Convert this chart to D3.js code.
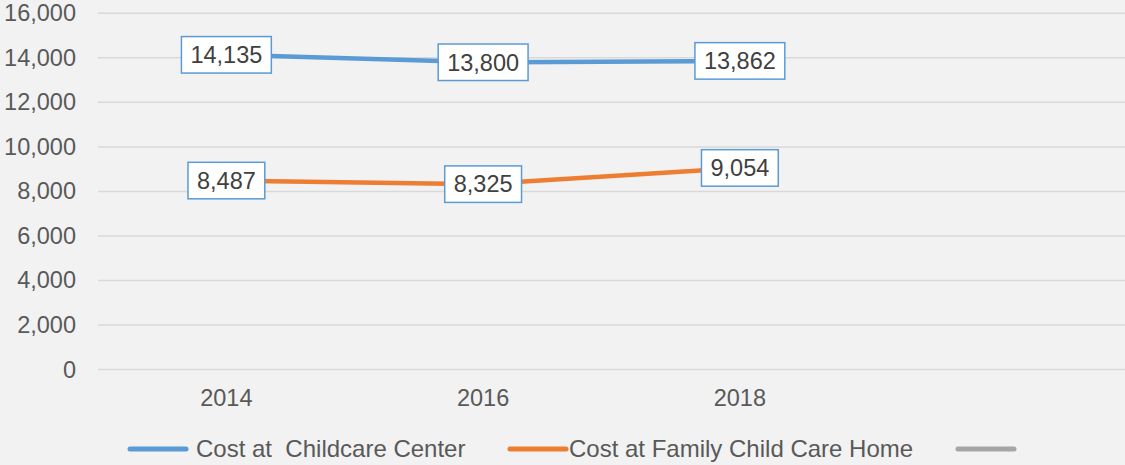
<!DOCTYPE html>
<html>
<head>
<meta charset="utf-8">
<script src="https://cdn.jsdelivr.net/npm/d3@7"></script>
<style>
  html, body { margin: 0; padding: 0; background: #f2f2f2; }
  svg { display: block; font-family: Arial, "Liberation Sans", sans-serif; }
</style>
</head>
<body>
<div id="chart"></div>
<script>
// data
const years = ["2014", "2016", "2018", ""];
const centerCost = [14135, 13800, 13862];
const familyCost = [8487, 8325, 9054];
const yTicks = [0, 2000, 4000, 6000, 8000, 10000, 12000, 14000, 16000];
const seriesNames = ["Cost at  Childcare Center", "Cost at Family Child Care Home", ""];
const seriesColors = ["#5b9bd5", "#ed7d31", "#a5a5a5"];

const w = 1125, h = 465;
const padL = 98, padR = 1125, padT = 13.3, padB = 369.5;

const svg = d3.select("#chart")
  .append("svg")
  .attr("width", w)
  .attr("height", h);

svg.append("rect").attr("width", w).attr("height", h).attr("fill", "#f2f2f2");

const x = d3.scaleBand().domain(years).range([padL, padR]);
const y = d3.scaleLinear().domain([0, 16000]).range([padB, padT]);
const fmt = d3.format(",");

// grid
svg.append("g")
  .selectAll("line")
  .data(yTicks)
  .join("line")
  .attr("x1", padL)
  .attr("x2", padR)
  .attr("y1", d => y(d))
  .attr("y2", d => y(d))
  .attr("stroke", "#d9d9d9")
  .attr("stroke-width", 1.5);

// y axis labels
const yAxis = svg.append("g")
  .attr("transform", `translate(${padL - 22},0)`)
  .call(d3.axisLeft(y).tickValues(yTicks).tickFormat(fmt).tickSize(0).tickPadding(0));
yAxis.select(".domain").remove();
yAxis.selectAll("text")
  .attr("fill", "#595959")
  .style("font-size", "23.5px")
  .style("font-family", "Arial, 'Liberation Sans', sans-serif");

// x axis labels
const xAxis = svg.append("g")
  .attr("transform", `translate(0,${padB + 20})`)
  .call(d3.axisBottom(x).tickSize(0).tickPadding(0));
xAxis.select(".domain").remove();
xAxis.selectAll("text")
  .attr("fill", "#595959")
  .style("font-size", "23.5px")
  .style("font-family", "Arial, 'Liberation Sans', sans-serif");

const cx = (i) => x(years[i]) + x.bandwidth() / 2;
const line = d3.line().x((d, i) => cx(i)).y(d => y(d));

[centerCost, familyCost].forEach((vals, s) => {
  svg.append("path")
    .datum(vals)
    .attr("d", line)
    .attr("fill", "none")
    .attr("stroke", seriesColors[s])
    .attr("stroke-width", 4.5)
    .attr("stroke-linecap", "round")
    .attr("stroke-linejoin", "round");
});

// data labels
[centerCost, familyCost].forEach((vals) => {
  const g = svg.append("g");
  vals.forEach((v, i) => {
    const lg = g.append("g").attr("transform", `translate(${cx(i)},${y(v)})`);
    const box = lg.append("rect");
    const t = lg.append("text")
      .text(fmt(v))
      .attr("text-anchor", "middle")
      .attr("dy", "0.35em")
      .attr("fill", "#404040")
      .style("font-size", "23.5px");
    const bw = t.node().getComputedTextLength() + 18;
    const bh = 36.5;
    box.attr("x", -bw / 2).attr("y", -bh / 2)
      .attr("width", bw).attr("height", bh)
      .attr("fill", "#ffffff")
      .attr("stroke", "#5b9bd5")
      .attr("stroke-width", 1.5);
  });
});

// legend
const legendX = [130, 510, 958];
const legendY = 449;
seriesNames.forEach((name, i) => {
  const lg = svg.append("g").attr("transform", `translate(${legendX[i]},${legendY})`);
  lg.append("line")
    .attr("x1", 0).attr("x2", 56)
    .attr("stroke", seriesColors[i])
    .attr("stroke-width", 5)
    .attr("stroke-linecap", "round");
  lg.append("text")
    .attr("x", i === 0 ? 66 : 59)
    .attr("dy", "0.35em")
    .attr("fill", "#595959")
    .style("font-size", "24px")
    .style("white-space", "pre")
    .attr("xml:space", "preserve")
    .text(name);
});
</script>
</body>
</html>
